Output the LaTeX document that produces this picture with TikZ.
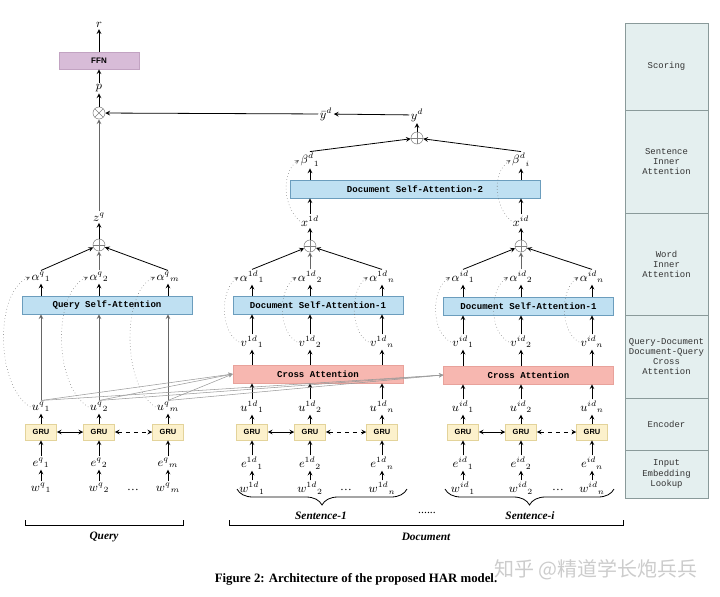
\documentclass[tikz,border=0pt]{standalone}
\usepackage{fontspec}
\setmainfont{Liberation Serif}
\setsansfont{Liberation Sans}
\setmonofont{Liberation Mono}
\newfontfamily\cjk{Noto Sans CJK SC}
\usetikzlibrary{shapes.geometric, arrows, decorations.pathreplacing}

\definecolor{attfill}{HTML}{BFE0F2}
\definecolor{attdraw}{HTML}{6B9DBD}
\definecolor{crossfill}{HTML}{F7B7B0}
\definecolor{crossdraw}{HTML}{E8A29B}
\definecolor{grufill}{HTML}{FCF1CC}
\definecolor{grudraw}{HTML}{E3D39A}
\definecolor{ffnfill}{HTML}{D8BCD8}
\definecolor{ffndraw}{HTML}{C2A3C2}
\definecolor{layerfill}{HTML}{E4EFEF}
\definecolor{layerdraw}{HTML}{8A9A9A}

\tikzstyle{selfatt} = [rectangle, minimum width=127.5pt, minimum height=13.5pt, inner sep=0pt, draw=attdraw, fill=attfill, font=\fontsize{6.8}{8}\selectfont\ttfamily\bfseries]
\tikzstyle{crossatt} = [rectangle, minimum width=127.5pt, minimum height=13.5pt, inner sep=0pt, draw=crossdraw, fill=crossfill, font=\fontsize{6.8}{8}\selectfont\ttfamily\bfseries]
\tikzstyle{gru} = [rectangle, minimum width=23.25pt, minimum height=12pt, inner sep=0pt, draw=grudraw, fill=grufill, font=\fontsize{5.6}{7}\selectfont\sffamily\bfseries]
\tikzstyle{ffn} = [rectangle, minimum width=60pt, minimum height=12.75pt, inner sep=0pt, draw=ffndraw, fill=ffnfill, font=\fontsize{6}{7}\selectfont\sffamily\bfseries]
\tikzstyle{var} = [inner sep=1pt, font=\fontsize{8.8}{10}\selectfont]
\tikzstyle{sum} = [circle, draw=black!50, minimum size=9pt, inner sep=0pt, path picture={\draw[black!50] (path picture bounding box.north) -- (path picture bounding box.south) (path picture bounding box.west) -- (path picture bounding box.east);}]
\tikzstyle{prod} = [circle, draw=black!50, minimum size=9pt, inner sep=0pt, path picture={\draw[black!50] (path picture bounding box.north west) -- (path picture bounding box.south east) (path picture bounding box.north east) -- (path picture bounding box.south west);}]
\tikzstyle{layer} = [rectangle, minimum width=62.25pt, inner sep=0pt, draw=layerdraw, fill=layerfill, align=center, text=black!80, font=\fontsize{6.7}{7.6}\selectfont\ttfamily]
\tikzstyle{part} = [font=\fontsize{8.5}{10}\selectfont\bfseries\itshape]
\tikzstyle{arrow} = [semithick,->,>=stealth]
\tikzstyle{greyarrow} = [semithick,->,>=stealth,draw=black!60]
\tikzstyle{crossline} = [thin,->,>=stealth,draw=black!40]
\tikzstyle{loopback} = [thin,dotted,->,>=stealth,draw=black!60]
\tikzstyle{bothways} = [semithick,<->,>=stealth]

\begin{document}
\begin{tikzpicture}[x=0.75pt,y=-0.75pt]
\useasboundingbox (0,0) rectangle (720,596);

% query side
\node (wq1) [var] at (41,488) {${w^{q}}_{1}$};
\node (wq2) [var] at (99,488) {${w^{q}}_{2}$};
\node (wqm) [var] at (168,488) {${w^{q}}_{m}$};
\node (dotsq) [var] at (133,490) {\dots};
\node (eq1) [var] at (41,463) {${e^{q}}_{1}$};
\node (eq2) [var] at (99,463) {${e^{q}}_{2}$};
\node (eqm) [var] at (168,463) {${e^{q}}_{m}$};
\node (gq1) [gru] at (41,432) {GRU};
\node (gq2) [gru] at (99,432) {GRU};
\node (gqm) [gru] at (168,432) {GRU};
\node (uq1) [var] at (41,407) {${u^{q}}_{1}$};
\node (uq2) [var] at (99,407) {${u^{q}}_{2}$};
\node (uqm) [var] at (168,407) {${u^{q}}_{m}$};
\node (qsa) [selfatt] at (107,305) {Query Self-Attention};
\node (aq1) [var] at (41,277) {${\alpha^{q}}_{1}$};
\node (aq2) [var] at (99,277) {${\alpha^{q}}_{2}$};
\node (aqm) [var] at (168,277) {${\alpha^{q}}_{m}$};
\node (sumq) [sum] at (99,245) {};
\node (zq) [var] at (99,217) {$z^{q}$};
\node (mult) [prod] at (99,113) {};
\node (p) [var] at (99,88) {$p$};
\node (ffn) [ffn] at (99,60.5) {FFN};
\node (r) [var] at (99,25) {$r$};

% sentence 1
\node (w11) [var] at (252,488) {${w^{1d}}_{1}$};
\node (w12) [var] at (310,488) {${w^{1d}}_{2}$};
\node (w1n) [var] at (382,488) {${w^{1d}}_{n}$};
\node (dots1) [var] at (346,490) {\dots};
\node (e11) [var] at (252,463) {${e^{1d}}_{1}$};
\node (e12) [var] at (310,463) {${e^{1d}}_{2}$};
\node (e1n) [var] at (382,463) {${e^{1d}}_{n}$};
\node (g11) [gru] at (252,432) {GRU};
\node (g12) [gru] at (310,432) {GRU};
\node (g1n) [gru] at (382,432) {GRU};
\node (u11) [var] at (252,407) {${u^{1d}}_{1}$};
\node (u12) [var] at (310,407) {${u^{1d}}_{2}$};
\node (u1n) [var] at (382,407) {${u^{1d}}_{n}$};
\node (ca1) [crossatt] at (318,374) {Cross Attention};
\node (v11) [var] at (252,342) {${v^{1d}}_{1}$};
\node (v12) [var] at (310,342) {${v^{1d}}_{2}$};
\node (v1n) [var] at (382,342) {${v^{1d}}_{n}$};
\node (dsa1) [selfatt] at (318,305) {Document Self-Attention-1};
\node (a11) [var] at (252,277) {${\alpha^{1d}}_{1}$};
\node (a12) [var] at (310,277) {${\alpha^{1d}}_{2}$};
\node (a1n) [var] at (382,277) {${\alpha^{1d}}_{n}$};
\node (sum1) [sum] at (310,246) {};
\node (x1) [var] at (310,221) {$x^{1d}$};

% sentence i
\node (wi1) [var] at (463,488) {${w^{id}}_{1}$};
\node (wi2) [var] at (521,488) {${w^{id}}_{2}$};
\node (win) [var] at (592,488) {${w^{id}}_{n}$};
\node (dotsi) [var] at (558,490) {\dots};
\node (ei1) [var] at (463,463) {${e^{id}}_{1}$};
\node (ei2) [var] at (521,463) {${e^{id}}_{2}$};
\node (ein) [var] at (592,463) {${e^{id}}_{n}$};
\node (gi1) [gru] at (463,432) {GRU};
\node (gi2) [gru] at (521,432) {GRU};
\node (gin) [gru] at (592,432) {GRU};
\node (ui1) [var] at (463,407) {${u^{id}}_{1}$};
\node (ui2) [var] at (521,407) {${u^{id}}_{2}$};
\node (uin) [var] at (592,407) {${u^{id}}_{n}$};
\node (ca2) [crossatt] at (528.5,375) {Cross Attention};
\node (vi1) [var] at (463,342) {${v^{id}}_{1}$};
\node (vi2) [var] at (521,342) {${v^{id}}_{2}$};
\node (vin) [var] at (592,342) {${v^{id}}_{n}$};
\node (dsai) [selfatt] at (528.5,306) {Document Self-Attention-1};
\node (ai1) [var] at (463,277) {${\alpha^{id}}_{1}$};
\node (ai2) [var] at (521,277) {${\alpha^{id}}_{2}$};
\node (ain) [var] at (592,277) {${\alpha^{id}}_{n}$};
\node (sumi) [sum] at (521,246) {};
\node (xi) [var] at (521,221) {$x^{id}$};

% document level
\node (dsa2) [selfatt, minimum width=187.5pt] at (415,189) {Document Self-Attention-2};
\node (b1) [var] at (310,160) {${\beta^{d}}_{1}$};
\node (bi) [var] at (521,160) {${\beta^{d}}_{i}$};
\node (sumd) [sum] at (417,138) {};
\node (yd) [var] at (417,115) {$y^{d}$};
\node (ybar) [var] at (326,114) {$\bar{y}^{d}$};

% layer panel
\node (scoring) [layer, minimum height=65.25pt] at (666.5,66.5) {Scoring};
\node (sentatt) [layer, minimum height=77.25pt] at (666.5,161.5) {Sentence\\Inner\\Attention};
\node (wordatt) [layer, minimum height=76.5pt] at (666.5,264) {Word\\Inner\\Attention};
\node (crossl) [layer, minimum height=62.25pt] at (666.5,356.5) {Query-Document\\Document-Query\\Cross\\Attention};
\node (encoder) [layer, minimum height=39pt] at (666.5,424) {Encoder};
\node (lookup) [layer, minimum height=36pt] at (666.5,474) {Input\\Embedding\\Lookup};

% parts and caption
\node (sent1) [part] at (321,516) {Sentence-1};
\node (senti) [part] at (530,516) {Sentence-i};
\node (sdots) [var] at (427,513) {......};
\node (query) [part] at (104,537) {Query};
\node (doc) [part] at (426,537) {Document};
\node (caption) [font=\fontsize{9.6}{11}\selectfont\bfseries] at (356,579) {Figure 2: Architecture of the proposed HAR model.};
\node (mark) [text=black!20, font=\cjk\fontsize{15}{16}\selectfont] at (596,570) {知乎 @精道学长炮兵兵};

% inputs
\draw [arrow] (wq1) -- (eq1);
\draw [arrow] (wq2) -- (eq2);
\draw [arrow] (wqm) -- (eqm);
\draw [arrow] (w11) -- (e11);
\draw [arrow] (w12) -- (e12);
\draw [arrow] (w1n) -- (e1n);
\draw [arrow] (wi1) -- (ei1);
\draw [arrow] (wi2) -- (ei2);
\draw [arrow] (win) -- (ein);
\draw [arrow] (eq1) -- (gq1);
\draw [arrow] (eq2) -- (gq2);
\draw [arrow] (eqm) -- (gqm);
\draw [arrow] (e11) -- (g11);
\draw [arrow] (e12) -- (g12);
\draw [arrow] (e1n) -- (g1n);
\draw [arrow] (ei1) -- (gi1);
\draw [arrow] (ei2) -- (gi2);
\draw [arrow] (ein) -- (gin);
\draw [bothways] (gq1) -- (gq2);
\draw [bothways, dashed] (gq2) -- (gqm);
\draw [bothways] (g11) -- (g12);
\draw [bothways, dashed] (g12) -- (g1n);
\draw [bothways] (gi1) -- (gi2);
\draw [bothways, dashed] (gi2) -- (gin);
\draw [arrow] (gq1) -- (uq1);
\draw [arrow] (gq2) -- (uq2);
\draw [arrow] (gqm) -- (uqm);
\draw [arrow] (g11) -- (u11);
\draw [arrow] (g12) -- (u12);
\draw [arrow] (g1n) -- (u1n);
\draw [arrow] (gi1) -- (ui1);
\draw [arrow] (gi2) -- (ui2);
\draw [arrow] (gin) -- (uin);

% query attention
\draw [greyarrow] (uq1.north) -- (uq1 |- qsa.south);
\draw [greyarrow] (uq2.north) -- (uq2 |- qsa.south);
\draw [greyarrow] (uqm.north) -- (uqm |- qsa.south);
\draw [arrow] (aq1 |- qsa.north) -- (aq1);
\draw [arrow] (aq2 |- qsa.north) -- (aq2);
\draw [arrow] (aqm |- qsa.north) -- (aqm);
\draw [arrow] (aq1.north) -- (sumq);
\draw [greyarrow] (aq2.north) -- (sumq);
\draw [arrow] (aqm.north) -- (sumq);
\draw [arrow] (sumq) -- (zq);
\draw [greyarrow] (zq) -- (mult);
\draw [arrow] (mult) -- (p);
\draw [arrow] (p) -- (ffn);
\draw [arrow] (ffn) -- (r);
\draw [loopback] (uq1.west) .. controls (-5,385) and (-5,292) .. (aq1.west);
\draw [loopback] (uq2.west) .. controls (53,385) and (53,292) .. (aq2.west);
\draw [loopback] (uqm.west) .. controls (122,385) and (122,292) .. (aqm.west);

% cross attention
\draw [arrow] (u11) -- (u11 |- ca1.south);
\draw [arrow] (u12) -- (u12 |- ca1.south);
\draw [arrow] (u1n) -- (u1n |- ca1.south);
\draw [arrow] (ui1) -- (ui1 |- ca2.south);
\draw [arrow] (ui2) -- (ui2 |- ca2.south);
\draw [arrow] (uin) -- (uin |- ca2.south);
\draw [arrow] (v11 |- ca1.north) -- (v11);
\draw [arrow] (v12 |- ca1.north) -- (v12);
\draw [arrow] (v1n |- ca1.north) -- (v1n);
\draw [arrow] (vi1 |- ca2.north) -- (vi1);
\draw [arrow] (vi2 |- ca2.north) -- (vi2);
\draw [arrow] (vin |- ca2.north) -- (vin);
\draw [crossline] (uq1.north) -- (ca1.west);
\draw [crossline] (uq2.north) -- (ca1.west);
\draw [crossline] (uqm.north) -- (ca1.west);
\draw [crossline] (uq1.north) -- (ca2.west);
\draw [crossline] (uq2.north) -- (ca2.west);
\draw [crossline] (uqm.north) -- (ca2.west);

% word attention
\draw [arrow] (v11) -- (v11 |- dsa1.south);
\draw [arrow] (v12) -- (v12 |- dsa1.south);
\draw [arrow] (v1n) -- (v1n |- dsa1.south);
\draw [arrow] (vi1) -- (vi1 |- dsai.south);
\draw [arrow] (vi2) -- (vi2 |- dsai.south);
\draw [arrow] (vin) -- (vin |- dsai.south);
\draw [arrow] (a11 |- dsa1.north) -- (a11);
\draw [arrow] (a12 |- dsa1.north) -- (a12);
\draw [arrow] (a1n |- dsa1.north) -- (a1n);
\draw [arrow] (ai1 |- dsai.north) -- (ai1);
\draw [arrow] (ai2 |- dsai.north) -- (ai2);
\draw [arrow] (ain |- dsai.north) -- (ain);
\draw [arrow] (a11.north) -- (sum1);
\draw [greyarrow] (a12.north) -- (sum1);
\draw [arrow] (a1n.north) -- (sum1);
\draw [arrow] (ai1.north) -- (sumi);
\draw [greyarrow] (ai2.north) -- (sumi);
\draw [arrow] (ain.north) -- (sumi);
\draw [arrow] (sum1) -- (x1);
\draw [arrow] (sumi) -- (xi);
\draw [loopback] (v11.west) .. controls (220,332) and (220,290) .. (a11.west);
\draw [loopback] (v12.west) .. controls (278,332) and (278,290) .. (a12.west);
\draw [loopback] (v1n.west) .. controls (350,332) and (350,290) .. (a1n.west);
\draw [loopback] (vi1.west) .. controls (431,332) and (431,290) .. (ai1.west);
\draw [loopback] (vi2.west) .. controls (489,332) and (489,290) .. (ai2.west);
\draw [loopback] (vin.west) .. controls (560,332) and (560,290) .. (ain.west);

% sentence attention
\draw [arrow] (x1) -- (x1 |- dsa2.south);
\draw [arrow] (xi) -- (xi |- dsa2.south);
\draw [arrow] (b1 |- dsa2.north) -- (b1);
\draw [arrow] (bi |- dsa2.north) -- (bi);
\draw [arrow] (b1.north) -- (sumd);
\draw [arrow] (bi.north) -- (sumd);
\draw [arrow] (sumd) -- (yd);
\draw [arrow] (yd) -- (ybar);
\draw [arrow] (ybar) -- (mult);
\draw [loopback] (x1.west) .. controls (282,205) and (282,172) .. (b1.west);
\draw [loopback] (xi.west) .. controls (493,205) and (493,172) .. (bi.west);

% braces and brackets
\draw [semithick, decorate, decoration={brace, amplitude=12pt}] (407,489) -- (237,489);
\draw [semithick, decorate, decoration={brace, amplitude=12pt}] (614,489) -- (445,489);
\draw [semithick] (25,520) -- (25,525) -- (183,525) -- (183,520);
\draw [semithick] (229,520) -- (229,525) -- (623,525) -- (623,520);

\end{tikzpicture}
\end{document}
